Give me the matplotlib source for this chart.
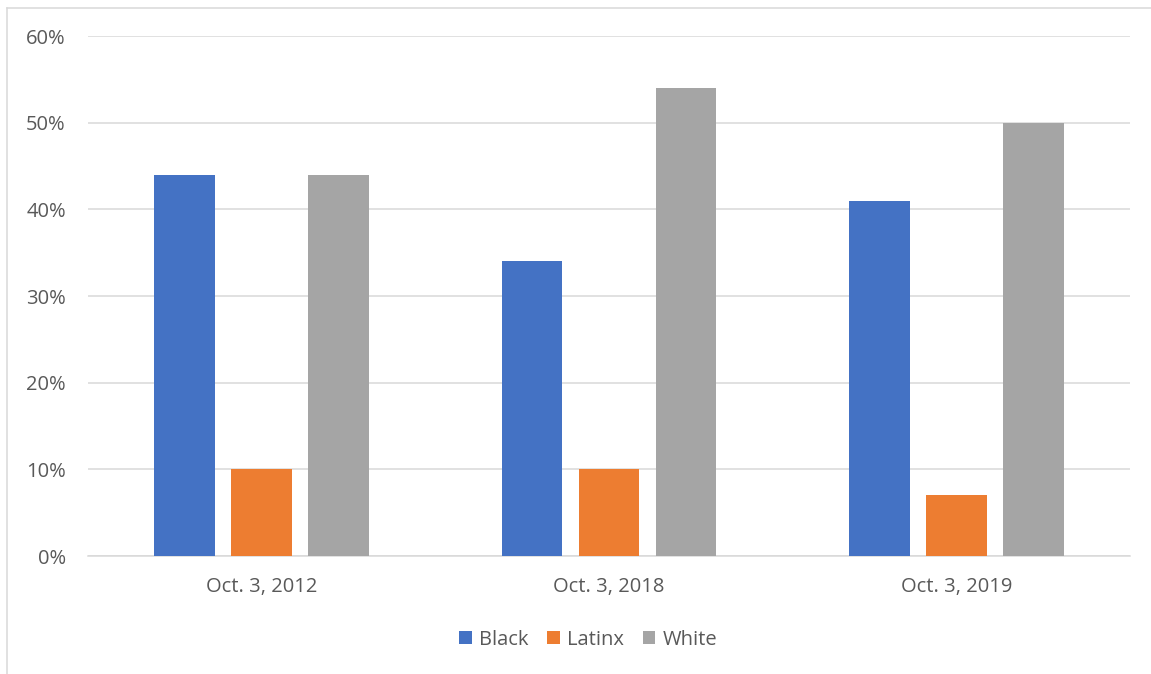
import numpy as np
from matplotlib import pyplot as plt
from matplotlib.lines import Line2D

categories = ["Oct. 3, 2012", "Oct. 3, 2018", "Oct. 3, 2019"]
black = [44, 34, 41]
latinx = [10, 10, 7]
white = [44, 54, 50]
series_names = ["Black", "Latinx", "White"]
yticks = [0, 10, 20, 30, 40, 50, 60]

colors = ["#4472C4", "#ED7D31", "#A5A5A5"]
text_color = "#595959"
grid_color = "#D9D9D9"

plt.rcParams['font.family'] = ['Open Sans', 'DejaVu Sans']

fig = plt.figure(figsize=(11.51, 6.74), dpi=100)
ax = fig.add_axes([88/1151, 1-556/674, (1130-88)/1151, (556-36)/674])

x = np.arange(len(categories))
width = 0.1756
step = 0.2217
for i, (vals, name) in enumerate(zip([black, latinx, white], series_names)):
    ax.bar(x + (i-1)*step, vals, width, color=colors[i], label=name, zorder=3)

ax.set_xlim(-0.5, 2.5)
ax.set_ylim(0, 60)
ax.set_yticks(yticks)
ax.set_yticklabels([f"{v}%" for v in yticks])
ax.set_xticks(x)
ax.set_xticklabels(categories)
ax.yaxis.grid(True, color=grid_color, linewidth=1.1, zorder=0)
ax.tick_params(axis='both', length=0, labelsize=14.5, labelcolor=text_color)
ax.tick_params(axis='y', pad=16)
ax.tick_params(axis='x', pad=15)
for s in ["top", "right", "left"]:
    ax.spines[s].set_visible(False)
ax.spines["bottom"].set_color(grid_color)
ax.spines["bottom"].set_linewidth(1.1)

leg = fig.legend(loc="center", bbox_to_anchor=(588/1151, 1-640/674), ncol=3, frameon=False,
                 fontsize=14.5, handlelength=0.62, handleheight=0.62, handletextpad=0.35,
                 columnspacing=0.95, labelcolor=text_color)

# chart border (only left and top visible in the crop)
fig.add_artist(Line2D([7.5/1151, 7.5/1151], [0, 1-7.5/674], transform=fig.transFigure, color=grid_color, linewidth=1.1))
fig.add_artist(Line2D([7.5/1151, 1], [1-7.5/674, 1-7.5/674], transform=fig.transFigure, color=grid_color, linewidth=1.1))

fig.savefig("out.png", dpi=100)
